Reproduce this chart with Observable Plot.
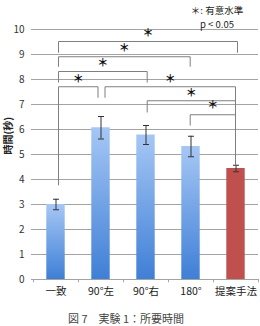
<!DOCTYPE html>
<html><head><meta charset="utf-8">
<script src="https://cdn.jsdelivr.net/npm/d3@7"></script>
<script src="https://cdn.jsdelivr.net/npm/@observablehq/plot@0.6"></script>
<style>
body{margin:0;background:#fff;width:260px;height:326px;overflow:hidden;position:relative;font-family:"Noto Sans CJK JP","Noto Sans",sans-serif;}
#chart{position:absolute;left:0;top:0;}
#legend{position:absolute;left:177px;top:3px;width:80px;text-align:center;font-size:9.5px;line-height:14px;color:#222;}
#caption{position:absolute;left:0;top:310px;width:252px;text-align:center;font-size:11px;line-height:16px;color:#444;}
</style></head><body>
<div id="chart"></div>
<div id="legend"><div>＊: 有意水準</div><div>p &lt; 0.05</div></div>
<div id="caption">図 7　実験 1：所要時間</div>
<script>
// ---- data ----
const categories = ["一致", "90°左", "90°右", "180°", "提案手法"];
const means = [3.0, 6.07, 5.78, 5.32, 4.44];
const errors = [0.21, 0.45, 0.38, 0.41, 0.13];
const highlight = "提案手法";
const yTicks = [0, 1, 2, 3, 4, 5, 6, 7, 8, 9, 10];
const yLabel = "時間(秒)";
// significance brackets (p < 0.05)
const bracketFrom = ["一致", "一致", "一致", "一致", "90°左", "90°右", "180°"];
const bracketTo = ["提案手法", "180°", "90°右", "90°左", "提案手法", "提案手法", "提案手法"];
const bracketTop = [9.52, 8.91, 8.32, 7.71, 7.71, 7.15, 6.59];
const legLeftEnd = [9.07, 8.51, 7.88, 3.77, 7.27, 6.68, 6.16];
const legRightEnd = [9.07, 8.51, 7.88, 7.27, 4.57, 4.57, 4.57];
const starY = [9.84, 9.25, 8.63, 8.01, 8.01, 7.45, 6.96];

// ---- layout ----
const pxUnit = 1 / 45;            // x units per pixel (225px over 5 categories)
const nudgeL = [2.5, 2.5, 2.5, 2.5, 4, 1.2, -0.8];
const nudgeR = [1.5, -0.8, 1.2, -3, -0.5, -0.5, -0.5];
const halfBar = 9.2 * pxUnit;
const halfCap = 3 * pxUnit;

const rows = categories.map((c, i) => ({c, i, m: means[i], e: errors[i]}));
const segs = [], stars = [];
bracketFrom.forEach((f, k) => {
  const a = categories.indexOf(f) + nudgeL[k] * pxUnit;
  const b = categories.indexOf(bracketTo[k]) + nudgeR[k] * pxUnit;
  segs.push({x1: a, x2: b, y1: bracketTop[k], y2: bracketTop[k]});
  segs.push({x1: a, x2: a, y1: bracketTop[k], y2: legLeftEnd[k]});
  segs.push({x1: b, x2: b, y1: bracketTop[k], y2: legRightEnd[k]});
  stars.push({x: (a + b) / 2, y: starY[k]});
});

const defs = () => {
  const g = document.createElementNS("http://www.w3.org/2000/svg", "defs");
  g.innerHTML = '<linearGradient id="barBlue" x1="0" y1="0" x2="0" y2="1">' +
    '<stop offset="0" stop-color="#a6c7f5"/><stop offset="1" stop-color="#3f7fd6"/></linearGradient>';
  return g;
};

const chart = Plot.plot({
  width: 260, height: 310,
  marginLeft: 33, marginRight: 2, marginTop: 29, marginBottom: 31,
  x: {type: "linear", domain: [-0.5, 4.5]},
  y: {domain: [0, 10]},
  style: {fontFamily: '"Noto Sans CJK JP","Noto Sans",sans-serif', fontSize: "10px", color: "#333", background: "transparent"},
  marks: [
    defs,
    Plot.gridY(yTicks, {stroke: "#a3a3a3", strokeOpacity: 1}),
    Plot.axisY(yTicks, {tickSize: 2, tickPadding: 7, stroke: "#a3a3a3", fill: "#333", label: null, fontSize: 10}),
    Plot.ruleX(d3.range(-0.5, 5, 1), {y1: 0, y2: -0.13, stroke: "#a3a3a3"}),
    Plot.axisX(d3.range(categories.length), {tickSize: 0, tickPadding: 8, tickFormat: i => categories[i], label: null, fontSize: 10.5, fill: "#222"}),
    Plot.text([yLabel], {frameAnchor: "left", rotate: -90, dx: -25, fontWeight: "bold", fontSize: 10, fill: "#222"}),
    Plot.rect(rows.filter(d => d.c !== highlight), {x1: d => d.i - halfBar, x2: d => d.i + halfBar, y1: 0, y2: "m", fill: "url(#barBlue)"}),
    Plot.rect(rows.filter(d => d.c === highlight), {x1: d => d.i - halfBar, x2: d => d.i + halfBar, y1: 0, y2: "m", fill: "#c0504d"}),
    Plot.ruleX(rows, {x: "i", y1: d => d.m - d.e, y2: d => d.m + d.e, stroke: "#333", strokeWidth: 1}),
    Plot.link(rows, {x1: d => d.i - halfCap, x2: d => d.i + halfCap, y1: d => d.m + d.e, y2: d => d.m + d.e, stroke: "#333"}),
    Plot.link(rows, {x1: d => d.i - halfCap, x2: d => d.i + halfCap, y1: d => d.m - d.e, y2: d => d.m - d.e, stroke: "#333"}),
    Plot.link(segs, {x1: "x1", x2: "x2", y1: "y1", y2: "y2", stroke: "#7f7f7f", strokeWidth: 1}),
    Plot.text(stars, {x: "x", y: "y", text: () => "＊", fontSize: 11, fontWeight: "bold", fill: "#111"})
  ]
});
document.getElementById("chart").appendChild(chart);
</script>
</body></html>
